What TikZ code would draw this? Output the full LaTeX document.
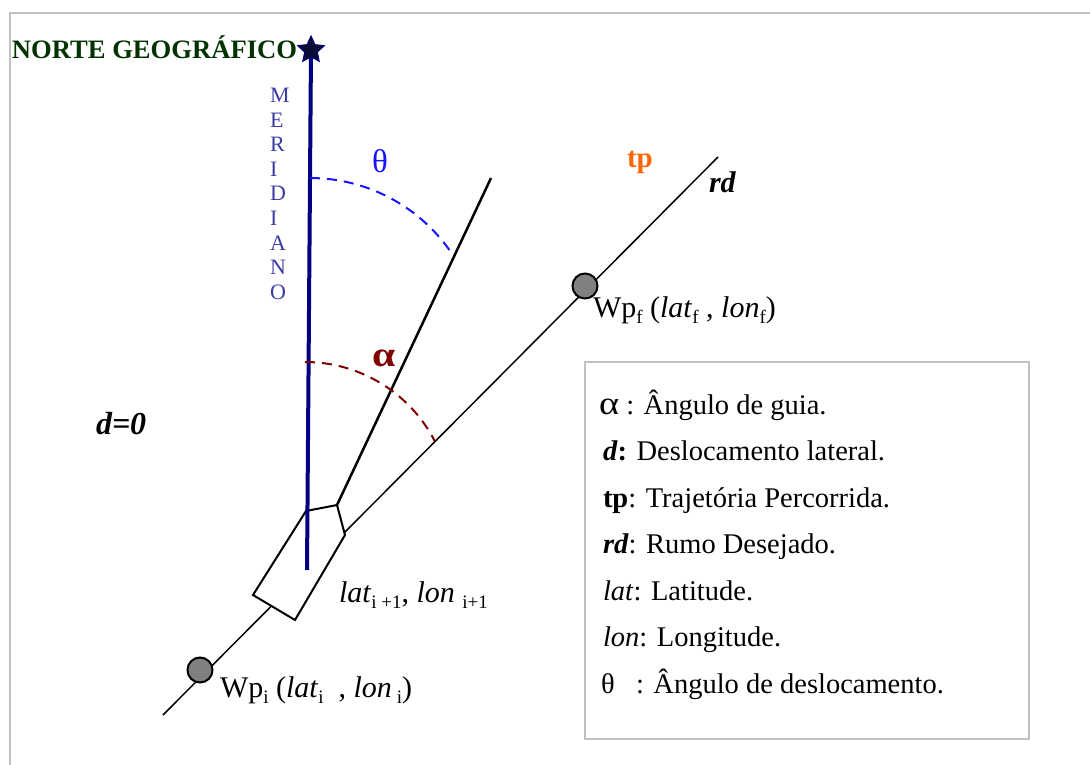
\documentclass[tikz,border=0pt]{standalone}
\usepackage{fontspec}
\setmainfont{Liberation Serif}
\usepackage{graphicx}
\usetikzlibrary{shapes.geometric}
\definecolor{navyline}{RGB}{0,0,128}
\definecolor{darkgreen}{RGB}{0,51,0}
\definecolor{meridtxt}{RGB}{60,60,165}
\definecolor{thetablue}{RGB}{20,20,255}
\definecolor{alphared}{RGB}{128,0,0}
\definecolor{tporange}{RGB}{255,102,0}
\definecolor{framegray}{RGB}{192,192,192}
\definecolor{wpgray}{RGB}{128,128,128}
\newcommand\fsz[1]{\fontsize{#1}{#1}\selectfont}
\newcommand\lsb[1]{\raisebox{-0.2em}{\fontsize{19}{19}\selectfont #1}}
\tikzset{
  lbl/.style={inner sep=0pt, outer sep=0pt, anchor=base west},
  frameline/.style={draw=framegray, line width=1.5pt},
  rdline/.style={draw=black, line width=1.5pt},
  headline/.style={draw=black, line width=2.5pt},
  boatshape/.style={draw=black, fill=white, line width=2pt, line join=miter},
  meridline/.style={draw=navyline, line width=4pt},
  wpdot/.style={circle, draw=black, fill=wpgray, line width=2pt, minimum size=25pt, inner sep=0pt},
  thetaarc/.style={draw=thetablue, line width=2pt, dash pattern=on 10pt off 7pt},
  alphaarc/.style={draw=alphared, line width=2pt, dash pattern=on 10pt off 7pt},
  merletter/.style={lbl, text=meridtxt, font=\fsz{22}},
  legtext/.style={lbl, font=\fsz{28.5}},
}
\begin{document}
\begin{tikzpicture}[x=1pt, y=-1pt]
\useasboundingbox (0,0) rectangle (1090,764);
% outer frame
\draw[frameline] (10,770) -- (10,13) -- (1095,13);

% key points
\coordinate (rdA) at (163,715);
\coordinate (rdB) at (718,157);
\coordinate (bow) at (337,505);
\coordinate (headEnd) at (491,178);
\coordinate (merTop) at (311,50);
\coordinate (merBot) at (307,570);
\coordinate (sternL) at (253,595);
\coordinate (sternR) at (295,620);
\coordinate (sideR) at (345,535);
\coordinate (sideL) at (306,511);

% desired course line
\draw[rdline] (rdA) -- (rdB);
% boat
\draw[boatshape] (sternL) -- (sternR) -- (sideR) -- (bow) -- (sideL) -- cycle;
% heading line
\draw[headline] (bow) -- (headEnd);
% meridian
\draw[meridline] (merTop) -- (merBot);
\node[star, star points=5, star point ratio=2.1, minimum size=28pt, inner sep=0pt, fill={rgb,255:red,10;green,10;blue,50}, draw=navyline, line width=1pt] (north) at (merTop) {};

% arcs
\draw[thetaarc] (310,178) arc[start angle=90, end angle=33.3, radius=171pt];
\draw[alphaarc] (305,362) arc[start angle=90, end angle=27.2, radius=146pt];

% waypoints
\node[wpdot] (wpi) at (200,670) {};
\node[wpdot] (wpf) at (585,286) {};

% labels
\node[lbl, text=darkgreen, font=\bfseries\fsz{26.6}] (norte) at (12,58) {NORTE GEOGRÁFICO};
\node[merletter] (m1) at (270,102) {M};
\node[merletter] (m2) at (270,127) {E};
\node[merletter] (m3) at (270,151) {R};
\node[merletter] (m4) at (270,176) {I};
\node[merletter] (m5) at (270,200) {D};
\node[merletter] (m6) at (270,225) {I};
\node[merletter] (m7) at (270,250) {A};
\node[merletter] (m8) at (270,274) {N};
\node[merletter] (m9) at (270,299) {O};

\node[lbl, text=thetablue, font=\fsz{33}] (thlab) at (372,172) {θ};
\node[lbl, text=alphared, font=\bfseries\fsz{32}] (allab) at (372,366) {\scalebox{1.3}[1.1]{α}};
\node[lbl, text=tporange, font=\bfseries\fsz{29}] (tplab) at (627,167) {tp};
\node[lbl, font=\bfseries\itshape\fsz{30}] (rdlab) at (709,192) {rd};
\node[lbl, font=\bfseries\itshape\fsz{32}] (dlab) at (96,434) {d=0};

\node[lbl, font=\fsz{30}] (wpflab) at (593,317) {Wp\lsb{f} (\textit{lat}\lsb{f} , \textit{lon}\lsb{f})};
\node[lbl, font=\fsz{30}] (wpilab) at (220,697) {Wp\lsb{i} (\textit{lat}\lsb{i}\ \ , \textit{lon}\,\lsb{i})};
\node[lbl, font=\fsz{30}] (boatlab) at (339,602) {\textit{lat}\lsb{i +1}, \textit{lon}\ \lsb{i+1}};

% legend
\node[draw=framegray, line width=1.5pt, fill=white, minimum width=444pt, minimum height=377pt, inner sep=0pt, anchor=north west] (legend) at (584,361) {};
\node[legtext] (lg1) at (599,414) {\scalebox{1.35}[1.15]{α} : Ângulo de guia.};
\node[legtext] (lg2) at (603,460) {\textbf{\textit{d}:} Deslocamento lateral.};
\node[legtext] (lg3) at (603,507) {\textbf{tp}: Trajetória Percorrida.};
\node[legtext] (lg4) at (603,553) {\textbf{\textit{rd}}: Rumo Desejado.};
\node[legtext] (lg5) at (603,600) {\textit{lat}: Latitude.};
\node[legtext] (lg6) at (603,646) {\textit{lon}: Longitude.};
\node[legtext] (lg7) at (601,693) {θ \ \ : Ângulo de deslocamento.};
\end{tikzpicture}
\end{document}
